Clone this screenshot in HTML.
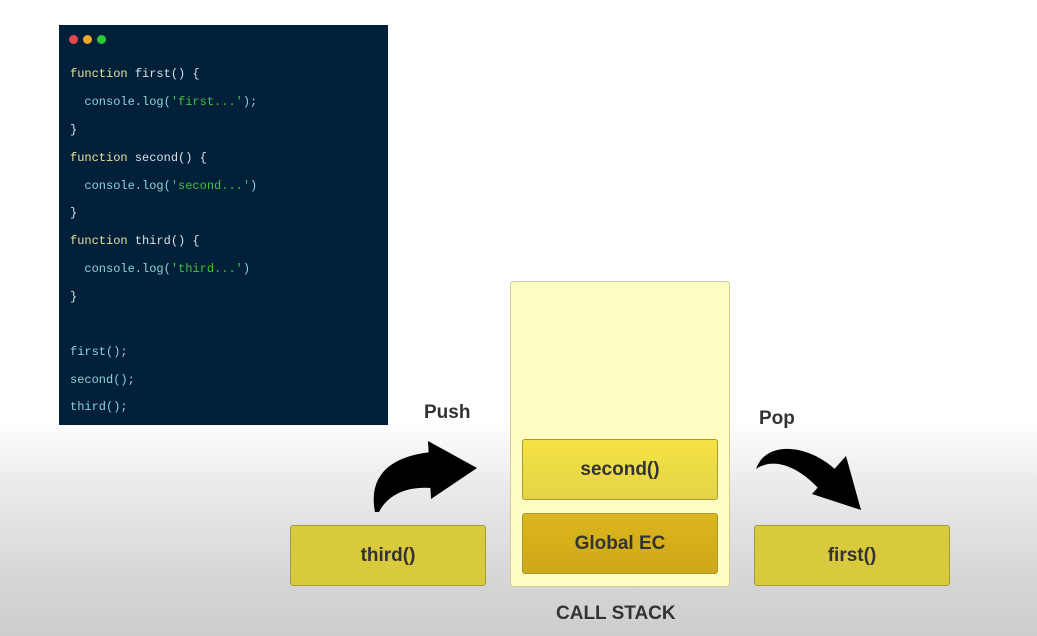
<!DOCTYPE html>
<html><head><style>
body{margin:0;width:1037px;height:636px;overflow:hidden;position:relative;font-family:"Liberation Sans",sans-serif;
background:linear-gradient(to bottom,#fff 0,#fff 420px,#ececec 480px,#d6d6d6 580px,#cdcdcd 636px);}
.code{position:absolute;left:59px;top:25px;width:329px;height:400px;background:#02203a;}
.dot{position:absolute;top:10px;width:9px;height:9px;border-radius:50%}
.ln{position:absolute;left:11px;font-family:"Liberation Mono",monospace;font-size:12px;color:#8fd3d6;white-space:pre}
.k{color:#e8e39a}.s{color:#3fc23f}.f{color:#d8e0e6}
.box{position:absolute;width:194px;height:59px;border:1px solid #a89a30;border-radius:3px;display:flex;align-items:center;justify-content:center;font-weight:bold;font-size:19px;color:#333}
.lbl{position:absolute;font-weight:bold;font-size:19px;color:#333}
</style></head><body>
<div class="code">
<div class="dot" style="left:10px;background:#e8454a"></div>
<div class="dot" style="left:24px;background:#f0a628"></div>
<div class="dot" style="left:38px;background:#2ec83c"></div>
<div class="ln" style="top:42px"><span class="k">function</span> <span class="f">first() {</span></div>
<div class="ln" style="top:70px">  console.log(<span class="s">'first...'</span>);</div>
<div class="ln f" style="top:98px">}</div>
<div class="ln" style="top:126px"><span class="k">function</span> <span class="f">second() {</span></div>
<div class="ln" style="top:154px">  console.log(<span class="s">'second...'</span>)</div>
<div class="ln f" style="top:181px">}</div>
<div class="ln" style="top:209px"><span class="k">function</span> <span class="f">third() {</span></div>
<div class="ln" style="top:237px">  console.log(<span class="s">'third...'</span>)</div>
<div class="ln f" style="top:265px">}</div>
<div class="ln" style="top:320px">first();</div>
<div class="ln" style="top:348px">second();</div>
<div class="ln" style="top:375px">third();</div>
</div>
<div style="position:absolute;left:510px;top:281px;width:218px;height:304px;background:#fdfdc2;border:1px solid #cfcd9c;border-radius:3px"></div>
<div class="box" style="left:522px;top:439px;background:linear-gradient(#f4e244,#e4d346)">second()</div>
<div class="box" style="left:522px;top:513px;background:linear-gradient(#dcb61e,#cea818)">Global EC</div>
<div class="box" style="left:290px;top:525px;background:#d9c93c">third()</div>
<div class="box" style="left:754px;top:525px;background:#d9c93c">first()</div>
<div class="lbl" style="left:424px;top:402px">Push</div>
<div class="lbl" style="left:759px;top:408px">Pop</div>
<div class="lbl" style="left:556px;top:603px">CALL STACK</div>
<svg width="1037" height="636" style="position:absolute;left:0;top:0">
<path d="M375,512 C368,476 390,456 432,452 L432,488 C408,486 388,494 379,512 Z" fill="#000"/>
<path d="M428,441 L477,468 L431,499 Z" fill="#000"/>
<path d="M756,469 C766,440 808,444 836,470 L820,490 C800,468 775,456 756,469 Z" fill="#000"/>
<path d="M846,456 L861,510 L812,494 Z" fill="#000"/>
</svg>
</body></html>
